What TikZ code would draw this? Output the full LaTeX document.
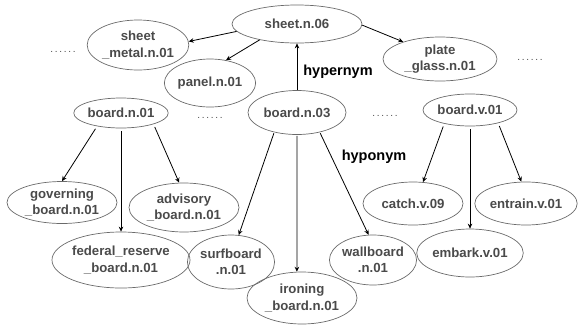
\documentclass[tikz,border=0pt]{standalone}
\usepackage{fontspec}
\setmainfont{Liberation Sans}
\usetikzlibrary{shapes.geometric,arrows.meta}
\definecolor{txt}{HTML}{4A4A4A}
\definecolor{ell}{HTML}{6A6A6A}
\tikzset{
  syn/.style={ellipse, draw=ell, line width=0.7pt, inner sep=0pt, text=txt,
    font=\fontsize{13.2}{16.5}\selectfont\bfseries, align=center},
  sz/.style 2 args={minimum width=#1, minimum height=#2},
  rel/.style={-{Stealth[length=5pt,width=4.5pt]}, line width=0.8pt, black},
  lab/.style={font=\fontsize{14.5}{17}\selectfont\bfseries, text=black},
  dotsx/.style={font=\fontsize{10}{12}\selectfont\addfontfeature{LetterSpace=17}, text=txt, anchor=base, inner sep=0pt}
}
\begin{document}
\begin{tikzpicture}[x=1pt,y=-1pt]
\useasboundingbox (0,0) rectangle (578,327);
% synset nodes
\node[syn, sz={130pt}{38pt}] (sheet) at (297,24) {sheet.n.06};
\node[syn, sz={92pt}{50pt}] (smetal) at (138,45) {sheet\\\_metal.n.01};
\node[syn, sz={86pt}{48pt}] (panel) at (210,83) {panel.n.01};
\node[syn, sz={114pt}{44pt}] (plate) at (440,59) {plate\\\_glass.n.01};
\node[syn, sz={94pt}{30pt}] (b01) at (121,113) {board.n.01};
\node[syn, sz={98pt}{44pt}] (b03) at (297,112.5) {board.n.03};
\node[syn, sz={94pt}{32pt}] (bv01) at (470,110) {board.v.01};
\node[syn, sz={110pt}{42pt}] (gov) at (62,202.5) {governing\\\_board.n.01};
\node[syn, sz={110pt}{49pt}] (adv) at (184,207.5) {advisory\\\_board.n.01};
\node[syn, sz={126pt}{56pt}] (fed) at (121,260) {federal\_reserve\\\_board.n.01};
\node[syn, sz={82pt}{54pt}] (surf) at (231,262) {surfboard\\.n.01};
\node[syn, sz={110pt}{52pt}] (iron) at (302,298) {ironing\\\_board.n.01};
\node[syn, sz={82pt}{50pt}] (wall) at (373,260) {wallboard\\.n.01};
\node[syn, sz={100pt}{48pt}] (embark) at (470,253) {embark.v.01};
\node[syn, sz={100pt}{43pt}] (catch) at (413,203.5) {catch.v.09};
\node[syn, sz={100pt}{43pt}] (entrain) at (526,203.5) {entrain.v.01};
% ellipsis marks
\node[dotsx] (d1) at (63,52) {......};
\node[dotsx] (d2) at (530,60) {......};
\node[dotsx] (d3) at (210,118) {......};
\node[dotsx] (d4) at (385,116) {......};
% relation labels
\node[lab] (hyper) at (338,72) {hypernym};
\node[lab] (hypo) at (374,157) {hyponym};
% edges
\draw[rel] (sheet.187) -- (smetal.4);
\draw[rel] (sheet.203) -- (panel.55);
\draw[rel] (sheet.359) -- (plate.155);
\draw[rel] (b03.north) -- (sheet.south);
\draw[rel, shorten <=3pt] (b01.209) -- (gov.north);
\draw[rel, shorten <=3pt] (b01.south) -- (fed.north);
\draw[rel, shorten <=3pt] (b01.341) -- (adv.101);
\draw[rel, shorten <=1pt] (b03.221) -- (surf.74);
\draw[rel, shorten <=1pt] (b03.south) -- (iron.101);
\draw[rel, shorten <=1pt] (b03.319) -- (wall.100);
\draw[rel, shorten <=3pt] (bv01.208) -- (catch.65);
\draw[rel, shorten <=3pt] (bv01.south) -- (embark.north);
\draw[rel, shorten <=3pt] (bv01.335) -- (entrain.102);
\end{tikzpicture}
\end{document}
